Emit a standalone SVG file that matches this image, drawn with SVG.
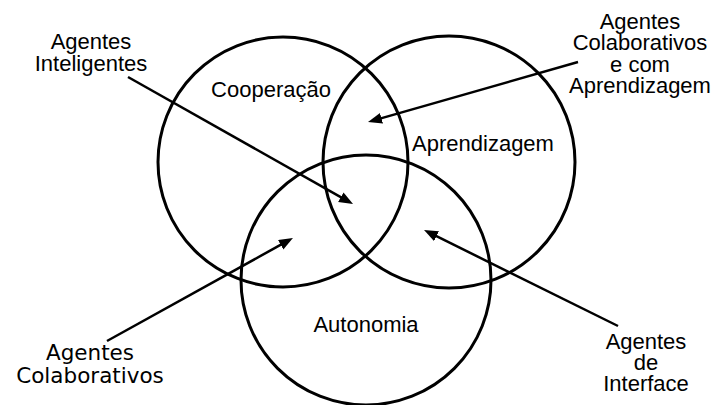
<svg xmlns="http://www.w3.org/2000/svg" width="716" height="405" viewBox="0 0 716 405">
<style>
.c{fill:none;stroke:#000;stroke-width:3}
.a{fill:none;stroke:#000;stroke-width:2.5}
.t{font-family:"Liberation Sans",Arial,sans-serif;font-size:22px;fill:#000;text-anchor:middle}
.d{font-family:"DejaVu Sans",sans-serif;font-size:21.5px;fill:#000;text-anchor:middle}
</style>
<defs>
<marker id="ah" markerUnits="userSpaceOnUse" markerWidth="16" markerHeight="12" refX="8" refY="5.5" orient="auto">
<path d="M0,0 L14,5.5 L0,11 z" fill="#000"/>
</marker>
</defs>
<rect width="716" height="405" fill="#fff"/>
<g id="cooperacao">
<circle class="c" cx="283" cy="162" r="125"/>
<text class="t" x="271" y="97">Cooperação</text>
</g>
<g id="aprendizagem">
<circle class="c" cx="449" cy="162" r="126"/>
<text class="t" x="483" y="151">Aprendizagem</text>
</g>
<g id="autonomia">
<circle class="c" cx="366" cy="280" r="125"/>
<text class="t" x="366" y="332">Autonomia</text>
</g>
<g id="agentes-inteligentes">
<text class="t" x="91" y="49">Agentes</text>
<text class="t" x="91" y="71">Inteligentes</text>
</g>
<g id="agentes-colab-aprend">
<text class="t" x="640" y="28.5">Agentes</text>
<text class="t" x="640" y="50">Colaborativos</text>
<text class="t" x="640" y="71.5">e com</text>
<text class="t" x="640" y="93">Aprendizagem</text>
</g>
<g id="agentes-colaborativos">
<text class="d" x="90" y="360">Agentes</text>
<text class="d" x="90" y="383">Colaborativos</text>
</g>
<g id="agentes-interface">
<text class="t" x="646" y="349">Agentes</text>
<text class="t" x="646" y="370">de</text>
<text class="t" x="646" y="391">Interface</text>
</g>
<g id="connectors">
<line class="a" x1="128" y1="77" x2="347.8" y2="201.1" marker-end="url(#ah)"/>
<line class="a" x1="578" y1="62" x2="373.8" y2="120.4" marker-end="url(#ah)"/>
<line class="a" x1="107" y1="341" x2="287.7" y2="240.9" marker-end="url(#ah)"/>
<line class="a" x1="618" y1="326" x2="429.4" y2="232.7" marker-end="url(#ah)"/>
</g>
</svg>
